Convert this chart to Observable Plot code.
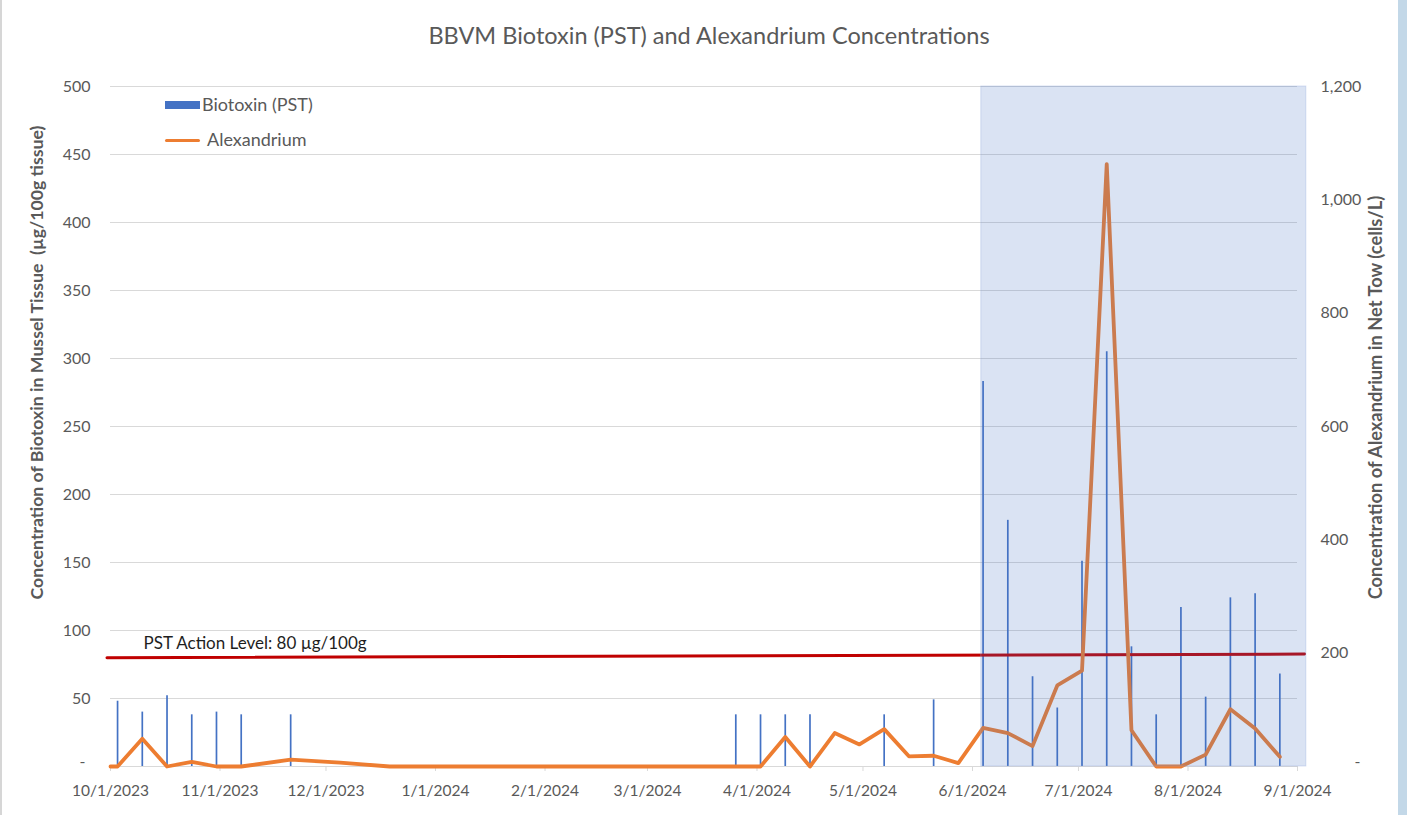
<!DOCTYPE html>
<html>
<head>
<meta charset="utf-8">
<script src="https://cdn.jsdelivr.net/npm/d3@7"></script>
<script src="https://cdn.jsdelivr.net/npm/@observablehq/plot@0.6"></script>
<style>
  body { margin: 0; background: #fff; }
  #wrap { position: relative; width: 1407px; height: 815px; overflow: hidden; font-family: Lato, sans-serif; background: #fff; }
  #edgeL { position: absolute; left: 0; top: 0; width: 2px; height: 815px; background: #d6d6d6; }
  #edgeR { position: absolute; left: 1398px; top: 0; width: 9px; height: 815px; background: #c3d8e8; }
  .leg { position: absolute; font-size: 18px; color: #595959; line-height: 1; white-space: nowrap; }
  .sw { position: absolute; }
</style>
</head>
<body>
<div id="wrap">
  <div id="edgeL"></div>
  <div id="edgeR"></div>
</div>
<script>
// ---- data ----
const titleText = "BBVM Biotoxin (PST) and Alexandrium Concentrations";
const leftLabel = "Concentration of Biotoxin in Mussel Tissue\u00a0 (\u00b5g/100g tissue)";
const rightLabel = "Concentration of Alexandrium in Net Tow (cells/L)";
const actionLabel = "PST Action Level: 80 \u00b5g/100g";

const biotoxinDates = ["2023-10-03","2023-10-10","2023-10-17","2023-10-24","2023-10-31","2023-11-07","2023-11-21",
  "2024-03-26","2024-04-02","2024-04-09","2024-04-16","2024-05-07","2024-05-21",
  "2024-06-04","2024-06-11","2024-06-18","2024-06-25","2024-07-02","2024-07-09","2024-07-16","2024-07-23",
  "2024-07-30","2024-08-06","2024-08-13","2024-08-20","2024-08-27"];
const biotoxinValues = [48,40,52,38,40,38,38,
  38,38,38,38,38,49,
  283,181,66,43,151,305,88,38,
  117,51,124,127,68];

const alexDates = ["2023-10-01","2023-10-03","2023-10-10","2023-10-17","2023-10-24","2023-10-31","2023-11-07","2023-11-21",
  "2023-12-05","2023-12-19","2024-03-26","2024-04-02","2024-04-09","2024-04-16","2024-04-23","2024-04-30",
  "2024-05-07","2024-05-14","2024-05-21","2024-05-28","2024-06-04","2024-06-11","2024-06-18","2024-06-25",
  "2024-07-02","2024-07-09","2024-07-16","2024-07-23","2024-07-30","2024-08-06","2024-08-13","2024-08-20","2024-08-27"];
const alexValues = [0,0,49,0,8,0,0,12,
  7,0,0,0,52,0,59,39,
  66,18,19,6,68,59,36,143,
  169,1063,64,0,0,21,101,67,17];

const actionDates = ["2023-09-30","2024-09-03"];
const actionValues = [80, 82.7];

const shadeWindow = ["2024-06-03T12:00Z","2024-09-03T12:00Z"];

const leftTicks = [50,100,150,200,250,300,350,400,450,500];
const rightTicks = [200,400,600,800,1000,1200];
const monthTicks = ["2023-10-01","2023-11-01","2023-12-01","2024-01-01","2024-02-01","2024-03-01",
  "2024-04-01","2024-05-01","2024-06-01","2024-07-01","2024-08-01","2024-09-01"];
const leftMax = 500, rightMax = 1200;

// ---- build ----
const k = leftMax / rightMax;
const bio = biotoxinDates.map((d, i) => ({date: new Date(d), v: biotoxinValues[i]}));
const alex = alexDates.map((d, i) => ({date: new Date(d), v: alexValues[i] * k}));
const action = actionDates.map((d, i) => ({date: new Date(d), v: actionValues[i]}));
const shade = [{x1: new Date(shadeWindow[0]), x2: new Date(shadeWindow[1])}];
const months = monthTicks.map(d => new Date(d));
const fmtDate = d => `${d.getUTCMonth() + 1}/${d.getUTCDate()}/${d.getUTCFullYear()}`;
const grey = "#595959";

const chart = Plot.plot({
  width: 1407, height: 815,
  marginTop: 86, marginBottom: 49, marginLeft: 110, marginRight: 110,
  style: {fontFamily: "Lato, sans-serif", color: grey, background: "transparent", overflow: "visible"},
  x: {type: "utc", domain: [months[0], months[months.length - 1]]},
  y: {domain: [0, leftMax]},
  marks: [
    Plot.gridY(leftTicks, {stroke: "#d9d9d9", strokeOpacity: 1}),
    Plot.ruleY([0], {stroke: "#d9d9d9"}),
    Plot.axisX(months, {tickSize: 5, tickPadding: 13, stroke: "#d9d9d9", fill: grey, fontSize: 15.5, tickFormat: fmtDate, label: null}),
    Plot.axisY(leftTicks, {anchor: "left", tickSize: 0, tickPadding: 20, fontSize: 16, fill: grey, label: null}),
    Plot.axisY(rightTicks.map(v => v * k), {anchor: "right", tickSize: 0, tickPadding: 23, fontSize: 16, fill: grey, label: null,
      tickFormat: d => d3.format(",")(Math.round(d / k))}),
    Plot.text(["-"], {text: d => d, frameAnchor: "bottom-left", dx: -31, fontSize: 16, fill: grey}),
    Plot.text(["-"], {text: d => d, frameAnchor: "bottom-right", dx: 63, fontSize: 16, fill: grey}),
    Plot.ruleX(bio, {x: "date", y1: 0, y2: "v", stroke: "#4472C4", strokeWidth: 1.7}),
    Plot.line(action, {x: "date", y: "v", stroke: "#C00000", strokeWidth: 3}),
    Plot.text([action[0]], {x: () => months[0], y: "v", text: () => actionLabel, textAnchor: "start", dx: 33, dy: -14.5, fontSize: 17, fill: "#1e1e1e"}),
    Plot.line(alex, {x: "date", y: "v", stroke: "#ED7D31", strokeWidth: 3.8, strokeLinejoin: "round", strokeLinecap: "round"}),
    Plot.rect(shade, {x1: "x1", x2: "x2", y1: () => 0, y2: () => leftMax, fill: "#4472C4", fillOpacity: 0.2, stroke: "#8faadc", strokeOpacity: 0.35}),
    Plot.text([titleText], {text: d => d, frameAnchor: "top", textAnchor: "middle", lineAnchor: "middle", dx: 5, dy: -50, fontSize: 23.5, fill: grey}),
    Plot.text([leftLabel], {text: d => d, frameAnchor: "left", textAnchor: "middle", lineAnchor: "middle", rotate: -90, dx: -73, dy: -64, fontSize: 17.7, fontWeight: "bold", fill: grey}),
    Plot.text([rightLabel], {text: d => d, frameAnchor: "right", textAnchor: "middle", lineAnchor: "middle", rotate: -90, dx: 79, dy: -29, fontSize: 18.3, fontWeight: "bold", fill: grey})
  ]
});
chart.style.position = "absolute";
chart.style.left = "0px";
chart.style.top = "0px";
const wrap = document.getElementById("wrap");
wrap.appendChild(chart);

// legend
function addEl(cls, css, text) {
  const e = document.createElement("div");
  e.className = cls;
  Object.assign(e.style, css);
  if (text) e.textContent = text;
  wrap.appendChild(e);
}
addEl("sw", {left: "165px", top: "101px", width: "35px", height: "8px", background: "#4472C4"});
addEl("leg", {left: "202px", top: "95px"}, "Biotoxin (PST)");
addEl("sw", {left: "165px", top: "138.5px", width: "35px", height: "3.5px", background: "#ED7D31", borderRadius: "2px"});
addEl("leg", {left: "207px", top: "130px"}, "Alexandrium");
</script>
</body>
</html>
